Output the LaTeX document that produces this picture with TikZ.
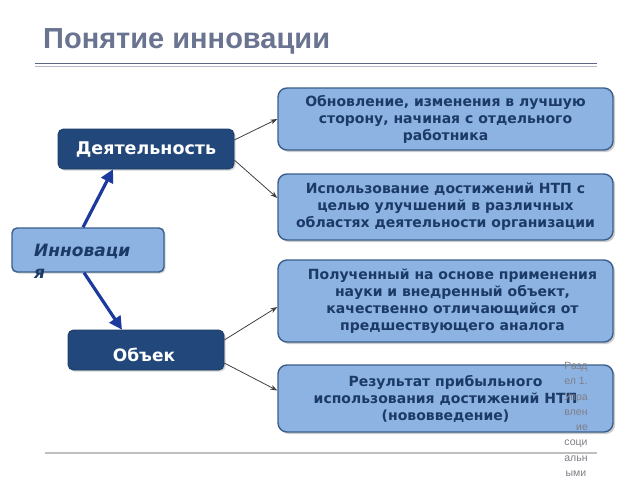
\documentclass[tikz,border=0pt]{standalone}
\usepackage{fontspec}
\setmainfont{DejaVu Sans}
\newfontfamily\titlefont{Liberation Sans}
\usetikzlibrary{arrows.meta,shadows}
\definecolor{titlec}{HTML}{6A7491}
\definecolor{darkbox}{HTML}{21477B}
\definecolor{lightbox}{HTML}{8DB3E2}
\definecolor{lightborder}{HTML}{3B5E8C}
\definecolor{boxtext}{HTML}{1B3A66}
\definecolor{arrowblue}{HTML}{1C3A9E}
\definecolor{sidegray}{HTML}{7E7E86}
\tikzset{
  darknode/.style={rectangle, rounded corners=5pt, fill=darkbox, draw=darkbox!80!black, line width=0.6pt,
    text=white, font=\bfseries\fontsize{17.5}{20}\selectfont, inner sep=0pt,
    drop shadow={shadow xshift=1.5pt, shadow yshift=-1.5pt, opacity=0.35}},
  lightnode/.style={rectangle, rounded corners=9pt, fill=lightbox, draw=lightborder, line width=1.4pt,
    text=boxtext, font=\bfseries\fontsize{14}{17}\selectfont, align=center, inner sep=0pt,
    drop shadow={shadow xshift=2pt, shadow yshift=-2pt, opacity=0.4}},
  bigarrow/.style={arrowblue, line width=3.2pt, -{Triangle[length=13pt, width=13pt]}},
  thinarrow/.style={black!75, line width=0.8pt, -{Stealth[length=7pt, width=5pt]}},
}
\begin{document}
\begin{tikzpicture}[x=1pt, y=-1pt]
\useasboundingbox (0,0) rectangle (640,480);
% title
\node[anchor=base west, inner sep=0pt, text=titlec, font=\titlefont\bfseries\fontsize{29}{32}\selectfont] (title) at (43,48) {Понятие инновации};
\draw[titlec!90!black, line width=1.8pt] (35,63.5) -- (597,63.5);
\draw[titlec!50, line width=1.2pt] (35,66.5) -- (597,66.5);
% bottom line
\draw[black!25, line width=1.5pt] (45,453) -- (597,453);
% left nodes
\node[darknode, minimum width=176pt, minimum height=40pt] (act) at (146,149) {Деятельность};
\node[rectangle, rounded corners=5pt, fill=lightbox, draw=lightborder, line width=1.4pt,
  minimum width=152pt, minimum height=44pt, inner sep=0pt,
  drop shadow={shadow xshift=1.5pt, shadow yshift=-1.5pt, opacity=0.35}] (inn) at (88,250) {};
\node[anchor=base west, inner sep=0pt, text=boxtext, font=\bfseries\itshape\fontsize{17}{20}\selectfont] (innt) at (34,256) {Инноваци};
\node[anchor=base west, inner sep=0pt, text=boxtext, font=\bfseries\itshape\fontsize{17}{20}\selectfont] (innt2) at (34,278) {я};
\node[darknode, minimum width=156pt, minimum height=40pt] (obj) at (146,350) {};
\node[anchor=base, inner sep=0pt, text=white, font=\bfseries\fontsize{17}{20}\selectfont] (objt) at (144,361) {Объек};
% right boxes
\node[lightnode, minimum width=335pt, minimum height=62pt] (b1) at (445.5,119) {Обновление, изменения в лучшую\\сторону, начиная с отдельного\\работника};
\node[lightnode, minimum width=335pt, minimum height=66pt] (b2) at (445.5,207) {Использование достижений НТП с\\целью улучшений в различных\\областях деятельности организации};
\node[lightnode, minimum width=335pt, minimum height=82pt] (b3) at (445.5,301) {\hspace*{14pt}Полученный на основе применения\\\hspace*{14pt}науки и внедренный объект,\\\hspace*{14pt}качественно отличающийся от\\\hspace*{14pt}предшествующего аналога};
\node[lightnode, minimum width=335pt, minimum height=67pt] (b4) at (445.5,398.5) {Результат прибыльного\\использования достижений НТП\\(нововведение)};
% arrows
\draw[bigarrow] ([xshift=-5pt]inn.north) -- ([xshift=-33pt]act.south);
\draw[bigarrow] ([xshift=-4pt]inn.south) -- ([xshift=-24pt]obj.north);
\draw[thinarrow] ([yshift=9pt]act.east) -- (b1.west);
\draw[thinarrow] ([yshift=-11pt]act.east) -- ([yshift=9pt]b2.west);
\draw[thinarrow] ([yshift=10pt]obj.east) -- ([yshift=-6pt]b3.west);
\draw[thinarrow] ([yshift=-13pt]obj.east) -- ([yshift=8pt]b4.west);
% side text
\node[anchor=north, inner sep=0pt, align=center, text=sidegray, font=\titlefont\fontsize{10.5}{15.3}\selectfont] (side) at (576,362) {Разд\\ел 1.\\Упра\\влен\\\hspace*{12pt}ие\\соци\\альн\\ыми};
\end{tikzpicture}
\end{document}
